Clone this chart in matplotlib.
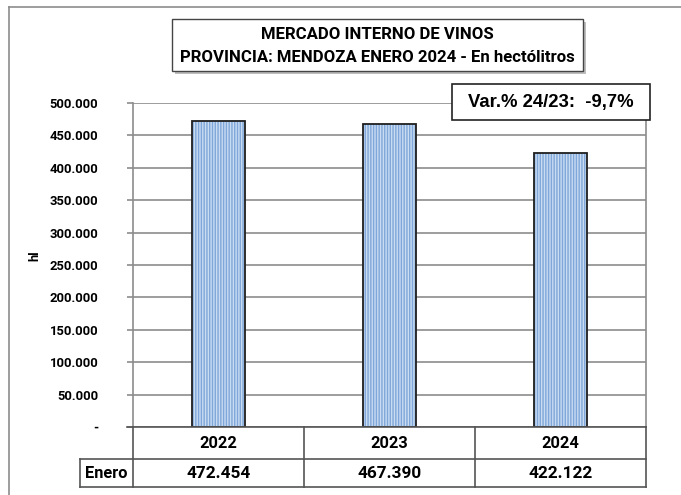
import matplotlib
matplotlib.use("Agg")
import matplotlib.pyplot as plt
from matplotlib.patches import Rectangle
from matplotlib.lines import Line2D
import matplotlib.transforms as mtransforms

years = ["2022", "2023", "2024"]
values = [472454, 467390, 422122]
row_label = "Enero"
yticks = [0, 50000, 100000, 150000, 200000, 250000, 300000, 350000, 400000, 450000, 500000]
title_lines = ["MERCADO INTERNO DE VINOS", "PROVINCIA: MENDOZA ENERO 2024 - En hectólitros"]
var_text = "Var.% 24/23:  -9,7%"
ylabel = "hl"

FONT = ["Roboto", "DejaVu Sans"]

W, H = 681, 495
fig = plt.figure(figsize=(W / 100, H / 100), dpi=100)
fig.patch.set_facecolor("white")

def fx(px):
    return px / W

def fy(py):
    return 1 - py / H

# outer frame
fig.add_artist(Line2D([fx(9), fx(9)], [fy(7), fy(500)], color="#8c8c8c", lw=1.2))
fig.add_artist(Line2D([fx(9), fx(690)], [fy(7), fy(7)], color="#8c8c8c", lw=1.2))

L, R, T, B = 133, 646, 103, 427
ax = fig.add_axes([fx(L), fy(B), fx(R) - fx(L), fy(T) - fy(B)])
ax.set_xlim(-0.5, 2.5)
ax.set_ylim(0, 500000)
x = list(range(len(years)))
ax.bar(x, values, width=0.315, color="#c9dcf2", hatch="||||||", edgecolor="#7fa7d9", linewidth=0, zorder=3)
ax.bar(x, values, width=0.315, facecolor="none", edgecolor="#1f1f1f", linewidth=1.3, zorder=4)

ax.set_yticks(yticks)
ax.set_yticklabels([("-" if v == 0 else f"{v:,}".replace(",", ".")) for v in yticks],
                   fontsize=9.4, fontweight="bold", family=FONT)
ax.tick_params(axis="y", length=4, width=1.2, color="#8c8c8c", pad=21)
ax.set_xticks([])
ax.yaxis.grid(True, color="#8c8c8c", lw=1.2, zorder=0)
for s in ["top", "bottom"]:
    ax.spines[s].set_visible(False)
ax.spines["left"].set_color("#8c8c8c")
ax.spines["right"].set_color("#8c8c8c")
ax.spines["left"].set_linewidth(1.2)
ax.spines["right"].set_linewidth(1.2)
fig.text(fx(35), fy(256), ylabel, rotation=90, ha="center", va="center",
         fontsize=9.4, fontweight="bold", family=FONT)

# table drawn with x in data coords and y in figure coords
tr = mtransforms.blended_transform_factory(ax.transData, fig.transFigure)
r0, r1, r2 = fy(427), fy(459), fy(487)
fig.add_artist(Line2D([fx(127), fx(R)], [r0, r0], color="#555555", lw=1.2))
fig.add_artist(Line2D([fx(80), fx(R)], [r1, r1], color="#555555", lw=1.2))
fig.add_artist(Line2D([fx(80), fx(R)], [r2, r2], color="#555555", lw=1.2))
fig.add_artist(Line2D([fx(80), fx(80)], [r1, r2], color="#555555", lw=1.2))
for b in [-0.5, 0.5, 1.5, 2.5]:
    fig.add_artist(Line2D([b, b], [r0, r2], color="#555555", lw=1.2, transform=tr))
for i, (yr, v) in enumerate(zip(years, values)):
    fig.text(i, (r0 + r1) / 2, yr, transform=tr, ha="center", va="center",
             fontsize=11.8, fontweight="bold", family=FONT)
    fig.text(i, (r1 + r2) / 2, f"{v:,}".replace(",", "."), transform=tr, ha="center", va="center",
             fontsize=12.4, fontweight="bold", family=FONT)
fig.text(fx(106), (r1 + r2) / 2, row_label, ha="center", va="center",
         fontsize=11.8, fontweight="bold", family=FONT)

# title box with shadow
fig.add_artist(Rectangle((fx(175), fy(74)), fx(583) - fx(172), fy(19) - fy(71),
                         facecolor="#bdbdbd", edgecolor="none", zorder=5))
fig.add_artist(Rectangle((fx(172), fy(71)), fx(583) - fx(172), fy(19) - fy(71),
                         facecolor="white", edgecolor="#444444", lw=1.0, zorder=6))
fig.text(fx(377.5), fy(34.5), title_lines[0], ha="center", va="center", fontsize=12.1,
         fontweight="bold", family=FONT, zorder=7)
fig.text(fx(377.5), fy(57), title_lines[1], ha="center", va="center", fontsize=12.1,
         fontweight="bold", family=FONT, zorder=7)

# var box
fig.add_artist(Rectangle((fx(452), fy(120)), fx(650) - fx(452), fy(84) - fy(120),
                         facecolor="white", edgecolor="#222222", lw=1.2, zorder=6))
fig.text(fx(551), fy(102), var_text, ha="center", va="center", fontsize=13.3,
         fontweight="bold", family=["Liberation Sans", "DejaVu Sans"], zorder=7)

fig.savefig("out.png", dpi=100, facecolor="white")
